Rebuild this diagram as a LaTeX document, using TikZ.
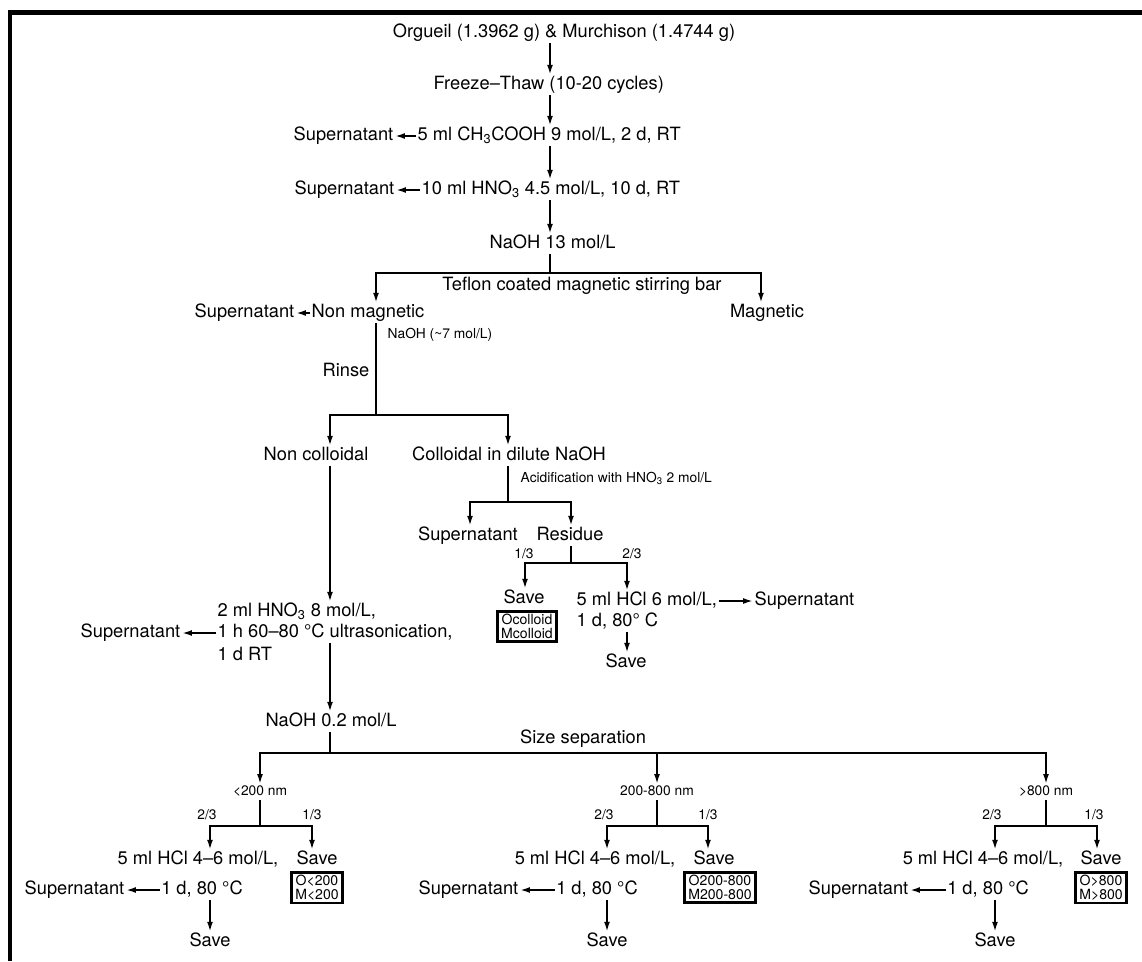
\documentclass[tikz,border=0pt]{standalone}
\usepackage{fontspec}
\setmainfont{TeX Gyre Heros}
\usetikzlibrary{arrows.meta}
\newcommand{\mainsz}{\fontsize{13}{15}\selectfont}
\newcommand{\notesz}{\fontsize{9.8}{11}\selectfont}
\newcommand{\boxsz}{\fontsize{10}{10.6}\selectfont}

\begin{document}
\begin{tikzpicture}[x=0.025cm, y=-0.025cm]
	\tikzset{txt/.style = {font=\mainsz, inner sep=1pt, text height=9.4pt, text depth=2.8pt},
		note/.style = {font=\notesz, inner sep=1pt, text height=7pt, text depth=2pt},
		arr/.style = {line width=1.3pt, -{Latex[length=7pt, width=4.2pt]}},
		ln/.style = {line width=1.3pt},
		savebox/.style = {draw, line width=2pt, font=\boxsz, align=center, inner xsep=2.5pt, inner ysep=1.5pt}}

	\useasboundingbox (0,0) rectangle (1142,961);
	\draw[line width=3.2pt, line join=miter] (10,961) -- (10,12.5) -- (1142,12.5);

	\node[txt] (orig) at (564,33) {Orgueil (1.3962 g) \& Murchison (1.4744 g)};
	\node[txt, anchor=west] (freeze) at (432,85) {Freeze–Thaw (10-20 cycles)};
	\node[txt, anchor=west] (acet) at (416,136) {5 ml CH\textsubscript{3}COOH 9 mol/L, 2 d, RT};
	\node[txt, anchor=east] (sup_1) at (395,136) {Supernatant};
	\node[txt, anchor=west] (nitr) at (420,190) {10 ml HNO\textsubscript{3} 4.5 mol/L, 10 d, RT};
	\node[txt, anchor=east] (sup_2) at (396,190) {Supernatant};
	\node[txt, anchor=west] (naoh_1) at (488,244) {NaOH 13 mol/L};

	\coordinate (sp_1) at (550,273);
	\node[txt] (teflon) at (582,286) {Teflon coated magnetic stirring bar};
	\node[txt] (nonmag) at (368,313) {Non magnetic};
	\node[txt, anchor=east] (sup_3) at (296,313) {Supernatant};
	\node[txt] (mag) at (767,313) {Magnetic};

	\node[note, anchor=west] (naoh_2) at (386,335) {NaOH (\textasciitilde7 mol/L)};
	\node[txt] (rinse) at (346,372) {Rinse};
	\coordinate (sp_2) at (376,415);
	\node[txt] (noncol) at (316,456) {Non colloidal};
	\node[txt] (col) at (509,456) {Colloidal in dilute NaOH};
	\node[note, anchor=west] (acid) at (519,479) {Acidification with HNO\textsubscript{3} 2 mol/L};
	\coordinate (sp_3) at (508,502);
	\node[txt] (sup_4) at (468,536) {Supernatant};
	\node[txt] (resid) at (570,536) {Residue};

	\coordinate (sp_4) at (571,563);
	\node[note] (frac_0a) at (524,555) {1/3};
	\node[note] (frac_0b) at (632,555) {2/3};
	\node[txt] (save_1) at (524,599) {Save};
	\node[savebox, anchor=north] (box_1) at (527,610) {Ocolloid\\Mcolloid};
	\node[txt, anchor=west] (hcl_1a) at (575,601) {5 ml HCl 6 mol/L,};
	\node[txt, anchor=west] (hcl_1b) at (575,622) {1 d, 80° C};
	\node[txt, anchor=west] (sup_5) at (753,601) {Supernatant};
	\node[txt] (save_2) at (626,663) {Save};

	\node[txt, anchor=west] (hno_a) at (216,612) {2 ml HNO\textsubscript{3} 8 mol/L,};
	\node[txt, anchor=west] (hno_b) at (216,633) {1 h 60–80 °C ultrasonication,};
	\node[txt, anchor=west] (hno_c) at (216,656) {1 d RT};
	\node[txt, anchor=east] (sup_6) at (182,633) {Supernatant};
	\node[txt] (naoh_3) at (331,722) {NaOH 0.2 mol/L};
	\coordinate (sp_5) at (330,753);
	\node[txt] (sizesep) at (583,739) {Size separation};

	\node[note] (size_1) at (260,792) {<200 nm};
	\coordinate (sp_6) at (260,826);
	\node[note] (frac_1a) at (207,816) {2/3};
	\node[note] (frac_1b) at (312,816) {1/3};
	\node[txt] (hcl_2a) at (198,860) {5 ml HCl 4–6 mol/L,};
	\node[txt] (hcl_2b) at (202,890) {1 d, 80 °C};
	\node[txt, anchor=east] (sup_7) at (126,890) {Supernatant};
	\node[txt] (save_3) at (317,860) {Save};
	\node[savebox, anchor=north] (box_2) at (317,871) {O<200\\M<200};
	\node[txt] (save_4) at (210,942) {Save};

	\node[note] (size_2) at (657,792) {200-800 nm};
	\coordinate (sp_7) at (657,826);
	\node[note] (frac_2a) at (604,816) {2/3};
	\node[note] (frac_2b) at (708,816) {1/3};
	\node[txt] (hcl_3a) at (595,860) {5 ml HCl 4–6 mol/L,};
	\node[txt] (hcl_3b) at (597,890) {1 d, 80 °C};
	\node[txt, anchor=east] (sup_8) at (520,890) {Supernatant};
	\node[txt] (save_5) at (714,860) {Save};
	\node[savebox, anchor=north] (box_3) at (720,871) {O200-800\\M200-800};
	\node[txt] (save_6) at (607,942) {Save};

	\node[note] (size_3) at (1046,792) {>800 nm};
	\coordinate (sp_8) at (1046,826);
	\node[note] (frac_3a) at (992,816) {2/3};
	\node[note] (frac_3b) at (1094,816) {1/3};
	\node[txt] (hcl_4a) at (983,860) {5 ml HCl 4–6 mol/L,};
	\node[txt] (hcl_4b) at (988,890) {1 d, 80 °C};
	\node[txt, anchor=east] (sup_9) at (910,890) {Supernatant};
	\node[txt] (save_7) at (1101,860) {Save};
	\node[savebox, anchor=north] (box_4) at (1101,871) {O>800\\M>800};
	\node[txt] (save_8) at (995,942) {Save};

	\draw[arr] (orig.south -| 550,0) -- (freeze.north -| 550,0);
	\draw[arr] (freeze.south -| 550,0) -- (acet.north -| 550,0);
	\draw[arr] (acet.south -| 550,0) -- (nitr.north -| 550,0);
	\draw[arr] (nitr.south -| 550,0) -- (naoh_1.north -| 550,0);
	\draw[arr] (acet.west) -- (sup_1.east);
	\draw[arr] (nitr.west) -- (sup_2.east);
	\draw[ln] (naoh_1.south -| 550,0) -- (sp_1);
	\draw[arr] (sp_1) -| (nonmag.north -| 376,0);
	\draw[arr] (sp_1) -| (mag.north -| 761,0);
	\draw[arr] (nonmag.west) -- (sup_3.east);

	\draw[ln] (nonmag.south -| 376,0) -- (sp_2);
	\draw[arr] (sp_2) -| (noncol.north -| 330,0);
	\draw[arr] (sp_2) -| (col.north -| 508,0);
	\draw[ln] (col.south -| 508,0) -- (sp_3);
	\draw[arr] (sp_3) -| (sup_4.north -| 470,0);
	\draw[arr] (sp_3) -| (resid.north -| 571,0);
	\draw[ln] (resid.south -| 571,0) -- (sp_4);
	\draw[arr] (sp_4) -| (save_1.north -| 525,0);
	\draw[arr] (sp_4) -| (hcl_1a.north -| 627,0);
	\draw[line width=2pt] (sp_4 -| 525,0) -- (sp_4 -| 627,0);
	\draw[arr] (hcl_1a.east) -- (sup_5.west);
	\draw[arr] (hcl_1b.south -| 627,0) -- (save_2.north -| 627,0);

	\draw[arr] (noncol.south -| 330,0) -- (hno_a.north -| 330,0);
	\draw[arr] (hno_b.west) -- (sup_6.east);
	\draw[arr] (hno_b.south -| 330,0) -- (naoh_3.north -| 330,0);
	\draw[ln] (naoh_3.south -| 330,0) -- (sp_5);
	\draw[arr] (sp_5) -| (size_1.north);
	\draw[arr] (sp_5) -| (size_3.north);
	\draw[arr] (sp_5 -| size_2.north) -- (size_2.north);

	\draw[ln] (size_1.south) -- (sp_6);
	\draw[arr] (sp_6) -| (hcl_2a.north -| 210,0);
	\draw[arr] (sp_6) -| (save_3.north -| 312,0);
	\draw[arr] (hcl_2b.west) -- (sup_7.east);
	\draw[arr] (hcl_2b.south -| 210,0) -- (save_4.north);

	\draw[ln] (size_2.south) -- (sp_7);
	\draw[arr] (sp_7) -| (hcl_3a.north -| 607,0);
	\draw[arr] (sp_7) -| (save_5.north -| 708,0);
	\draw[arr] (hcl_3b.west) -- (sup_8.east);
	\draw[arr] (hcl_3b.south -| 607,0) -- (save_6.north);

	\draw[ln] (size_3.south) -- (sp_8);
	\draw[arr] (sp_8) -| (hcl_4a.north -| 995,0);
	\draw[arr] (sp_8) -| (save_7.north -| 1097,0);
	\draw[arr] (hcl_4b.west) -- (sup_9.east);
	\draw[arr] (hcl_4b.south -| 995,0) -- (save_8.north);
\end{tikzpicture}
\end{document}
